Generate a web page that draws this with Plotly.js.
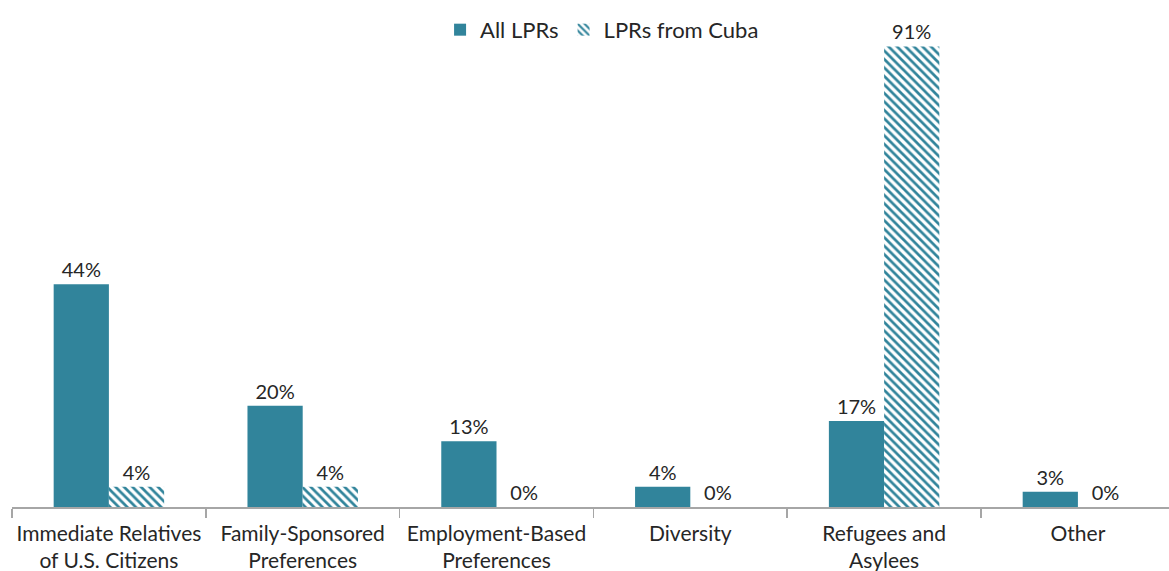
<!DOCTYPE html>
<html>
<head>
<meta charset="utf-8">
<script src="https://cdn.plot.ly/plotly-3.0.1.min.js"></script>
<style>html,body{margin:0;padding:0;background:#fff;}#chart{width:1169px;height:571px;}</style>
</head>
<body>
<div id="chart"></div>
<script>
var categories = ["Immediate Relatives<br>of U.S. Citizens", "Family-Sponsored<br>Preferences", "Employment-Based<br>Preferences", "Diversity", "Refugees and<br>Asylees", "Other"];
var allLPRs = [44, 20, 13, 4, 17, 3];
var cubaLPRs = [4, 4, 0, 0, 91, 0];
var seriesNames = ["All LPRs", "LPRs from Cuba"];

var teal = "#31849B";
function pct(v){ return v.map(function(x){ return x + "%"; }); }

var traces = [
  {
    type: "bar", name: seriesNames[0], x: categories, y: allLPRs,
    text: pct(allLPRs), textposition: "outside", cliponaxis: false,
    textfont: {size: 20, color: "#262626"},
    marker: {color: teal, line: {width: 0}},
    hoverinfo: "none"
  },
  {
    type: "bar", name: seriesNames[1], x: categories, y: cubaLPRs,
    text: pct(cubaLPRs), textposition: "outside", cliponaxis: false,
    textfont: {size: 20, color: "#262626"},
    marker: {color: "#ffffff", line: {width: 0},
      pattern: {shape: "\\", fgcolor: teal, bgcolor: "#ffffff", size: 6, solidity: 0.45}},
    hoverinfo: "none"
  }
];

var layout = {
  width: 1169, height: 571,
  margin: {l: 12, r: 0, t: 10, b: 64},
  paper_bgcolor: "#fff", plot_bgcolor: "#fff",
  font: {family: "Lato, 'Open Sans', sans-serif", color: "#262626", size: 21},
  barmode: "group", bargap: 0.43, bargroupgap: 0,
  showlegend: true,
  legend: {orientation: "h", x: 0.51, xanchor: "center", y: 0.96, yanchor: "middle",
    font: {size: 22, color: "#262626"}, itemwidth: 30, tracegroupgap: 10},
  xaxis: {
    range: [-0.5, 5.47], showline: true, linecolor: "#A6A6A6", linewidth: 1.5,
    ticks: "outside", tickson: "boundaries", ticklen: 9, tickcolor: "#A6A6A6", tickwidth: 1.5,
    showgrid: false, zeroline: false, fixedrange: true, ticklabelstandoff: 7, tickangle: 0,
    tickfont: {size: 21, color: "#262626"}
  },
  yaxis: {range: [0, 98.2], visible: false, showgrid: false, zeroline: false, fixedrange: true}
};

Plotly.newPlot("chart", traces, layout, {displayModeBar: false, staticPlot: true});
</script>
</body>
</html>
